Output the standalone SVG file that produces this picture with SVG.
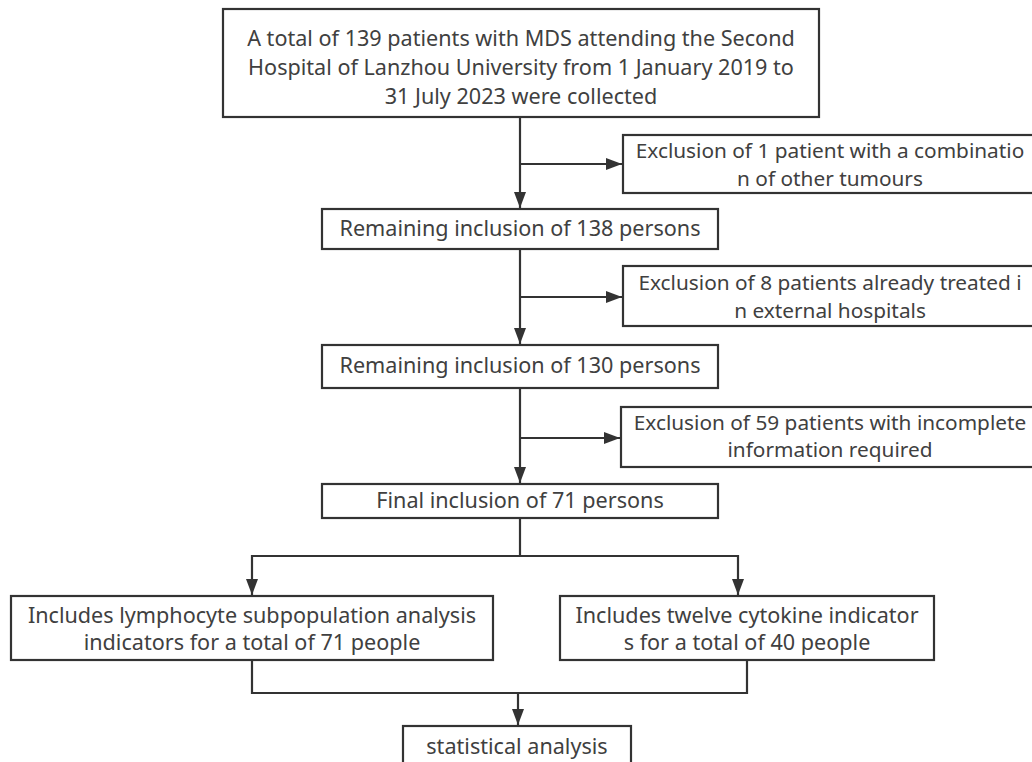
<svg xmlns="http://www.w3.org/2000/svg" width="1032" height="762" viewBox="0 0 1032 762">
<style>
.box{fill:#fff;stroke:#333;stroke-width:2.2}
.t{font-family:"Noto Sans","Liberation Sans",Arial,sans-serif;font-size:21.6px;fill:#404040;text-anchor:middle}
.ex{font-size:20.8px}
.c{fill:none;stroke:#333;stroke-width:2.2}
</style>
<defs>
<marker id="ah" markerUnits="userSpaceOnUse" markerWidth="16" markerHeight="14" viewBox="0 0 16 14" refX="16" refY="7" orient="auto">
<path d="M0,1 L16,7 L0,13 Z" fill="#333"/>
</marker>
</defs>
<rect width="1032" height="762" fill="#fff"/>
<g id="connectors">
<line class="c" x1="520" y1="117" x2="520" y2="208" marker-end="url(#ah)"/>
<line class="c" x1="520" y1="164" x2="622" y2="164" marker-end="url(#ah)"/>
<line class="c" x1="520" y1="249" x2="520" y2="344" marker-end="url(#ah)"/>
<line class="c" x1="520" y1="297" x2="622" y2="297" marker-end="url(#ah)"/>
<line class="c" x1="520" y1="388" x2="520" y2="483" marker-end="url(#ah)"/>
<line class="c" x1="520" y1="438" x2="620" y2="438" marker-end="url(#ah)"/>
<polyline class="c" points="520,518 520,556 252,556 252,595" marker-end="url(#ah)"/>
<polyline class="c" points="520,556 738,556 738,595" marker-end="url(#ah)"/>
<polyline class="c" points="252,660 252,693 747,693 747,660"/>
<line class="c" x1="518" y1="693" x2="518" y2="725" marker-end="url(#ah)"/>
</g>
<g id="n1">
<rect class="box" x="223" y="9" width="596" height="108"/>
<text class="t" x="521" y="46">A total of 139 patients with MDS attending the Second</text>
<text class="t" x="521" y="75">Hospital of Lanzhou University from 1 January 2019 to</text>
<text class="t" x="521" y="104">31 July 2023 were collected</text>
</g>
<g id="ex1">
<rect class="box" x="623" y="135" width="421" height="58"/>
<text class="t ex" x="830" y="158">Exclusion of 1 patient with a combinatio</text>
<text class="t ex" x="830" y="186">n of other tumours</text>
</g>
<g id="n2">
<rect class="box" x="322" y="209" width="396" height="40"/>
<text class="t" x="520" y="236">Remaining inclusion of 138 persons</text>
</g>
<g id="ex2">
<rect class="box" x="623" y="266" width="421" height="60"/>
<text class="t ex" x="830" y="290">Exclusion of 8 patients already treated i</text>
<text class="t ex" x="830" y="318">n external hospitals</text>
</g>
<g id="n3">
<rect class="box" x="322" y="345" width="396" height="43"/>
<text class="t" x="520" y="373">Remaining inclusion of 130 persons</text>
</g>
<g id="ex3">
<rect class="box" x="621" y="407" width="423" height="60"/>
<text class="t ex" x="830" y="430">Exclusion of 59 patients with incomplete</text>
<text class="t ex" x="830" y="457">information required</text>
</g>
<g id="n4">
<rect class="box" x="322" y="484" width="396" height="34"/>
<text class="t" x="520" y="508">Final inclusion of 71 persons</text>
</g>
<g id="n5">
<rect class="box" x="11" y="596" width="482" height="64"/>
<text class="t" x="252" y="623">Includes lymphocyte subpopulation analysis</text>
<text class="t" x="252" y="650">indicators for a total of 71 people</text>
</g>
<g id="n6">
<rect class="box" x="560" y="596" width="374" height="64"/>
<text class="t" x="747" y="623">Includes twelve cytokine indicator</text>
<text class="t" x="747" y="650">s for a total of 40 people</text>
</g>
<g id="n7">
<rect class="box" x="403" y="726" width="228" height="50"/>
<text class="t" x="517" y="754">statistical analysis</text>
</g>
</svg>
